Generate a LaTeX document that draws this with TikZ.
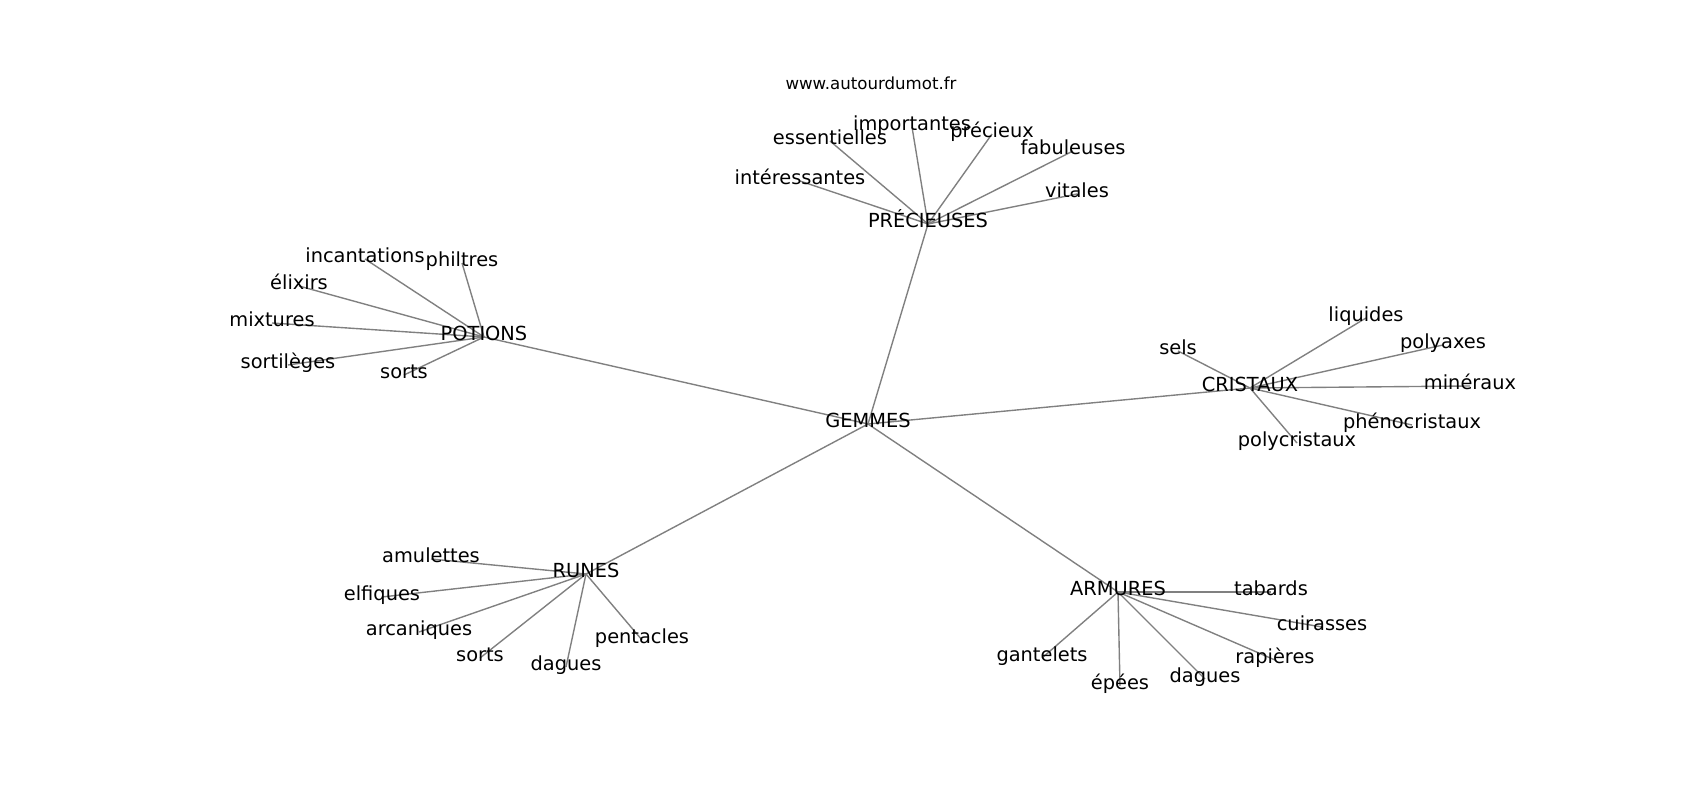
\documentclass[tikz,border=0pt]{standalone}
\usepackage{fontspec}
\setmainfont{DejaVu Sans}
\usetikzlibrary{backgrounds}
\tikzset{
  lbl/.style={inner sep=0pt, outer sep=0pt, text height=0.76em, text depth=0.21em,
    font=\fontsize{14}{16}\selectfont, text=black, yshift=-0.03in},
  urlstyle/.style={inner sep=0pt, font=\fontsize{12}{14}\selectfont, text=black},
  edge/.style={draw=gray, line width=1pt}
}
\begin{document}
\begin{tikzpicture}[x=0.01in,y=-0.01in]
\useasboundingbox (0,0) rectangle (1700,800);
\node[urlstyle] (url) at (871,83) {www.autourdumot.fr};
% centre
\node[lbl] (g) at (868,421) {GEMMES};
% PRECIEUSES
\node[lbl] (p) at (928,221) {PRÉCIEUSES};
\node[lbl] (p1) at (912,124) {importantes};
\node[lbl] (p2) at (830,138) {essentielles};
\node[lbl] (p3) at (992,131) {précieux};
\node[lbl] (p4) at (1073,148) {fabuleuses};
\node[lbl] (p5) at (800,178) {intéressantes};
\node[lbl] (p6) at (1077,191) {vitales};
% POTIONS
\node[lbl] (o) at (484,334) {POTIONS};
\node[lbl] (o1) at (365,256) {incantations};
\node[lbl] (o2) at (462,260) {philtres};
\node[lbl] (o3) at (299,283) {élixirs};
\node[lbl] (o4) at (272,320) {mixtures};
\node[lbl] (o5) at (288,362) {sortilèges};
\node[lbl] (o6) at (404,372) {sorts};
% CRISTAUX
\node[lbl] (c) at (1250,385) {CRISTAUX};
\node[lbl] (c1) at (1178,348) {sels};
\node[lbl] (c2) at (1366,315) {liquides};
\node[lbl] (c3) at (1443,342) {polyaxes};
\node[lbl] (c4) at (1470,383) {minéraux};
\node[lbl] (c5) at (1412,422) {phénocristaux};
\node[lbl] (c6) at (1297,440) {polycristaux};
% RUNES
\node[lbl] (r) at (586,571) {RUNES};
\node[lbl] (r1) at (431,556) {amulettes};
\node[lbl] (r2) at (382,594) {elfiques};
\node[lbl] (r3) at (419,629) {arcaniques};
\node[lbl] (r4) at (480,655) {sorts};
\node[lbl] (r5) at (566,664) {dagues};
\node[lbl] (r6) at (642,637) {pentacles};
% ARMURES
\node[lbl] (a) at (1118,589) {ARMURES};
\node[lbl] (a1) at (1271,589) {tabards};
\node[lbl] (a2) at (1322,624) {cuirasses};
\node[lbl] (a3) at (1275,657) {rapières};
\node[lbl] (a4) at (1205,676) {dagues};
\node[lbl] (a5) at (1120,683) {épées};
\node[lbl] (a6) at (1042,655) {gantelets};
\begin{scope}[on background layer]
\fill[white] (0,0) rectangle (1700,800);
\foreach \h in {p,o,c,r,a} {\draw[edge] (g.center) -- (\h.center);}
\foreach \h in {p,o,c,r,a} {
  \foreach \i in {1,...,6} {\draw[edge] (\h.center) -- (\h\i.center);}
}
\end{scope}
\end{tikzpicture}
\end{document}
